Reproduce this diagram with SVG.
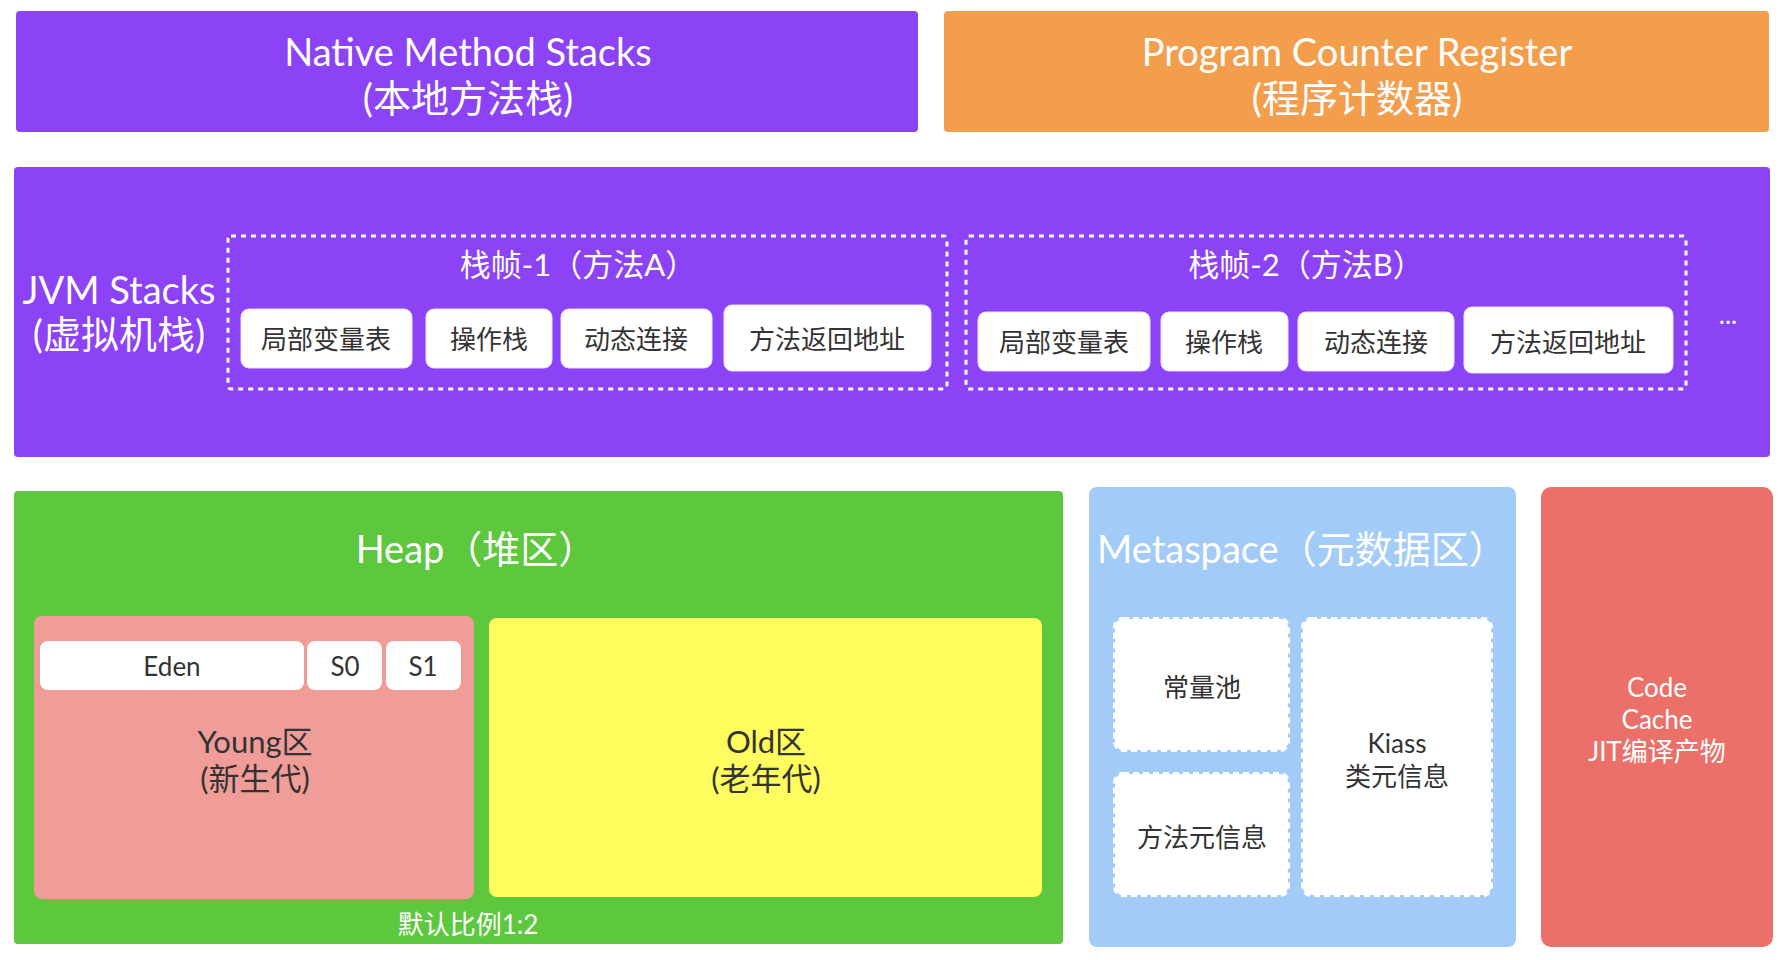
<svg xmlns="http://www.w3.org/2000/svg" width="1784" height="960" viewBox="0 0 1784 960">
<style>
text{font-family:Lato,"Noto Sans CJK SC",sans-serif;text-anchor:middle;dominant-baseline:central}
.w{fill:#fff}
.d{fill:#333}
.big{font-size:38px}
.mid{font-size:31px}
.sm{font-size:26px}
.cell{fill:#fff;stroke:#e8e0f8;stroke-width:1}
.frame{fill:none;stroke:#fff;stroke-width:3;stroke-dasharray:5 5}
.meta{fill:#fff;stroke:#fff;stroke-width:4;stroke-dasharray:6 4}
</style>
<rect width="1784" height="960" fill="#fff"/>
<g id="native">
<rect x="16" y="11" width="902" height="121" rx="4" fill="#8C42F5"/>
<text class="w big"><tspan x="468" y="51">Native Method Stacks</tspan><tspan x="468" y="97">(本地方法栈)</tspan></text>
</g>
<g id="pc">
<rect x="944" y="11" width="825" height="121" rx="4" fill="#F29E4C"/>
<text class="w big"><tspan x="1357" y="51">Program Counter Register</tspan><tspan x="1357" y="97">(程序计数器)</tspan></text>
</g>
<g id="jvm">
<rect x="14" y="167" width="1756" height="290" rx="4" fill="#8C42F5"/>
<text class="w big"><tspan x="119" y="289">JVM Stacks</tspan><tspan x="119" y="333">(虚拟机栈)</tspan></text>
<text class="w sm" x="1728" y="314">...</text>
</g>
<g id="frame1">
<rect class="frame" x="228" y="236" width="719" height="153" rx="3"/>
<text class="w mid" x="578" y="264">栈帧-1（方法A）</text>
<rect class="cell" x="241" y="309" width="171" height="59" rx="8"/>
<text class="d sm" x="326" y="339">局部变量表</text>
<rect class="cell" x="426" y="309" width="126" height="59" rx="8"/>
<text class="d sm" x="489" y="339">操作栈</text>
<rect class="cell" x="561" y="309" width="151" height="59" rx="8"/>
<text class="d sm" x="636" y="339">动态连接</text>
<rect class="cell" x="724" y="305" width="207" height="66" rx="8"/>
<text class="d sm" x="827" y="339">方法返回地址</text>
</g>
<g id="frame2">
<rect class="frame" x="966" y="236" width="720" height="153" rx="3"/>
<text class="w mid" x="1306" y="264">栈帧-2（方法B）</text>
<rect class="cell" x="978" y="312" width="172" height="59" rx="8"/>
<text class="d sm" x="1064" y="342">局部变量表</text>
<rect class="cell" x="1161" y="312" width="127" height="59" rx="8"/>
<text class="d sm" x="1224" y="342">操作栈</text>
<rect class="cell" x="1298" y="312" width="156" height="59" rx="8"/>
<text class="d sm" x="1376" y="342">动态连接</text>
<rect class="cell" x="1464" y="307" width="209" height="66" rx="8"/>
<text class="d sm" x="1568" y="342">方法返回地址</text>
</g>
<g id="heap">
<rect x="14" y="491" width="1049" height="453" rx="4" fill="#5DC83D"/>
<text class="w big" x="476" y="548">Heap（堆区）</text>
<text class="w sm" x="468" y="924">默认比例1:2</text>
</g>
<g id="young">
<rect x="34" y="616" width="440" height="283" rx="8" fill="#F09D9A"/>
<rect x="40" y="641" width="264" height="49" rx="8" fill="#fff"/>
<text class="d sm" x="172" y="666">Eden</text>
<rect x="307" y="641" width="75" height="49" rx="8" fill="#fff"/>
<text class="d sm" x="345" y="666">S0</text>
<rect x="386" y="641" width="75" height="49" rx="8" fill="#fff"/>
<text class="d sm" x="423" y="666">S1</text>
<text class="d mid"><tspan x="255" y="741">Young区</tspan><tspan x="255" y="778">(新生代)</tspan></text>
</g>
<g id="old">
<rect x="489" y="618" width="553" height="279" rx="8" fill="#FFFC5D"/>
<text class="d mid"><tspan x="766" y="741">Old区</tspan><tspan x="766" y="778">(老年代)</tspan></text>
</g>
<g id="metaspace">
<rect x="1089" y="487" width="427" height="460" rx="8" fill="#A3CBF7"/>
<text class="w big" x="1097" y="548" style="text-anchor:start">Metaspace（元数据区）</text>
</g>
<g id="constpool">
<rect class="meta" x="1115" y="619" width="173" height="131" rx="8"/>
<text class="d sm" x="1202" y="687">常量池</text>
</g>
<g id="methodmeta">
<rect class="meta" x="1115" y="774" width="173" height="121" rx="8"/>
<text class="d sm" x="1202" y="837">方法元信息</text>
</g>
<g id="klass">
<rect class="meta" x="1303" y="619" width="188" height="276" rx="8"/>
<text class="d sm"><tspan x="1397" y="743">Kiass</tspan><tspan x="1397" y="776">类元信息</tspan></text>
</g>
<g id="codecache">
<rect x="1541" y="487" width="232" height="460" rx="10" fill="#EC706A"/>
<text class="w sm"><tspan x="1657" y="687">Code</tspan><tspan x="1657" y="719">Cache</tspan><tspan x="1657" y="751">JIT编译产物</tspan></text>
</g>
<g id="connectors"/>
</svg>
